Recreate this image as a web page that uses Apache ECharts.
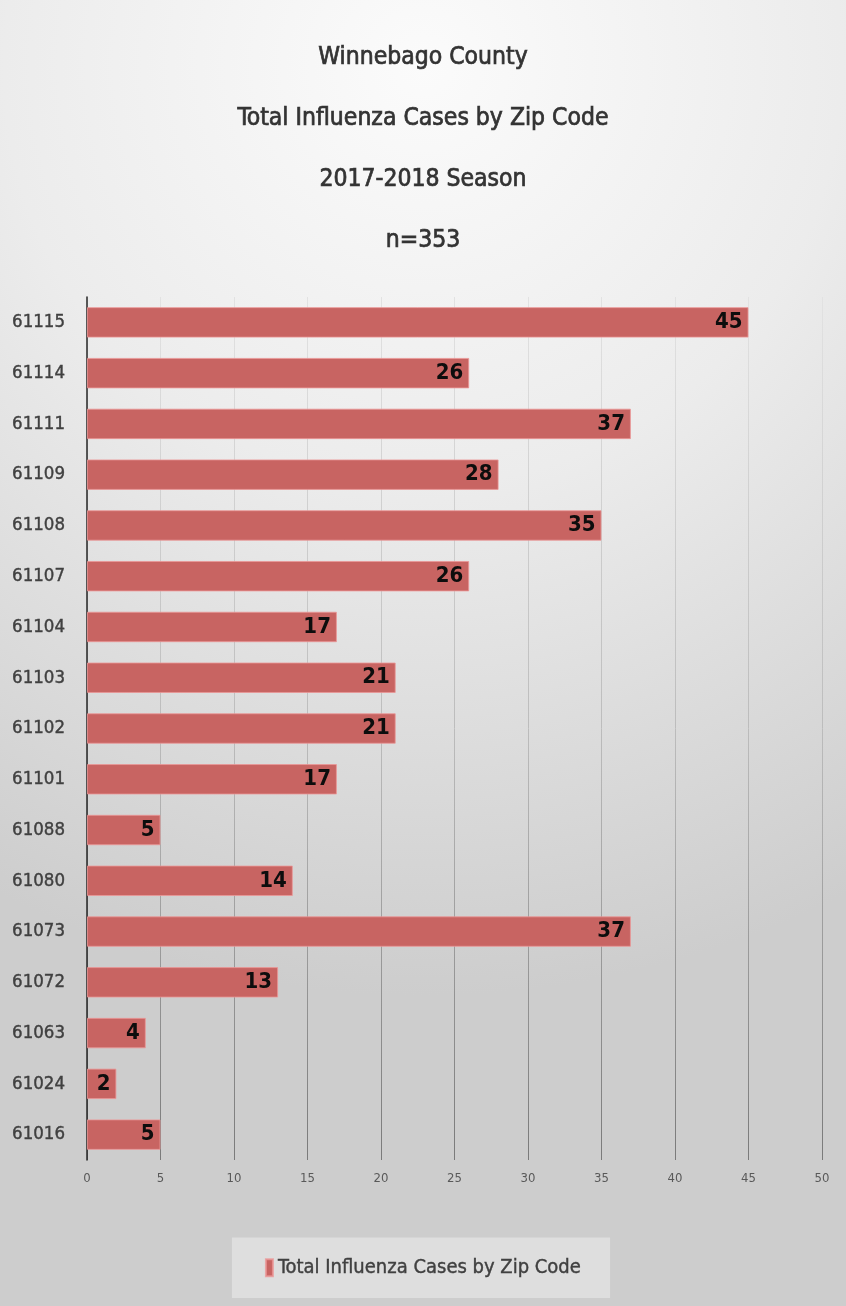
<!DOCTYPE html>
<html>
<head>
<meta charset="utf-8">
<script src="https://cdn.jsdelivr.net/npm/echarts@6/dist/echarts.min.js"></script>
<style>
html,body{margin:0;padding:0;}
#chart{width:846px;height:1306px;}
</style>
</head>
<body>
<div id="chart"></div>
<script>
var titleLines = ['Winnebago County', 'Total Influenza Cases by Zip Code', '2017-2018 Season', 'n=353'];
var zipCodes = ['61115','61114','61111','61109','61108','61107','61104','61103','61102','61101','61088','61080','61073','61072','61063','61024','61016'];
var caseCounts = [45, 26, 37, 28, 35, 26, 17, 21, 21, 17, 5, 14, 37, 13, 4, 2, 5];
var seriesName = 'Total Influenza Cases by Zip Code';
var xTicks = [0, 5, 10, 15, 20, 25, 30, 35, 40, 45, 50];

var FONT = "'DejaVu Sans Condensed', 'Liberation Sans Narrow', sans-serif";
var chart = echarts.init(document.getElementById('chart'), null, {renderer: 'canvas'});
chart.setOption({
  backgroundColor: {
    type: 'radial', x: 0.5, y: 0.05, r: 1.1,
    colorStops: [
      {offset: 0, color: '#fbfbfb'},
      {offset: 0.45, color: '#ececec'},
      {offset: 1, color: '#cdcdcd'}
    ]
  },
  animation: false,
  title: {
    text: titleLines.join('\n'),
    left: 'center',
    top: 22,
    textStyle: {
      fontFamily: FONT, fontSize: 24.5, fontWeight: 'normal',
      color: '#333333', lineHeight: 61,
      textBorderColor: '#333333', textBorderWidth: 0.7
    }
  },
  legend: {
    bottom: 8,
    left: 'center',
    data: [seriesName],
    icon: 'rect',
    itemWidth: 7,
    itemHeight: 17,
    itemGap: 4,
    backgroundColor: 'rgba(255,255,255,0.35)',
    padding: [20, 29, 20, 33],
    textStyle: {fontFamily: FONT, fontSize: 20, color: '#404040', textBorderColor: '#404040', textBorderWidth: 0.4}
  },
  grid: {left: 87, right: 24, top: 297, bottom: 146, containLabel: false},
  xAxis: {
    type: 'value',
    min: 0, max: 50, interval: 5,
    axisLine: {show: false},
    axisTick: {show: false},
    axisLabel: {
      fontFamily: FONT, fontSize: 13, color: '#595959', margin: 12,
      formatter: function (v) { return xTicks.indexOf(v) >= 0 ? String(v) : ''; }
    },
    splitLine: {
      show: true,
      lineStyle: {
        width: 1,
        color: {
          type: 'linear', x: 0, y: 297, x2: 0, y2: 1160, global: true,
          colorStops: [
            {offset: 0, color: '#e2e2e2'},
            {offset: 0.5, color: '#bcbcbc'},
            {offset: 1, color: '#7a7a7a'}
          ]
        }
      }
    }
  },
  yAxis: {
    type: 'category',
    inverse: true,
    data: zipCodes,
    axisLine: {show: true, lineStyle: {color: '#262626', width: 1.5}},
    axisTick: {show: false},
    axisLabel: {fontFamily: FONT, fontSize: 18.5, color: '#404040', margin: 22, textBorderColor: '#404040', textBorderWidth: 0.4}
  },
  series: [{
    name: seriesName,
    type: 'bar',
    data: caseCounts,
    barWidth: '60%',
    itemStyle: {color: '#c86462', borderColor: 'rgba(235,150,150,0.8)', borderWidth: 1},
    label: {
      show: true,
      position: 'insideRight',
      distance: 6,
      fontFamily: FONT,
      fontSize: 22,
      fontWeight: 'bold',
      color: '#0d0d0d'
    }
  }]
});
</script>
</body>
</html>
